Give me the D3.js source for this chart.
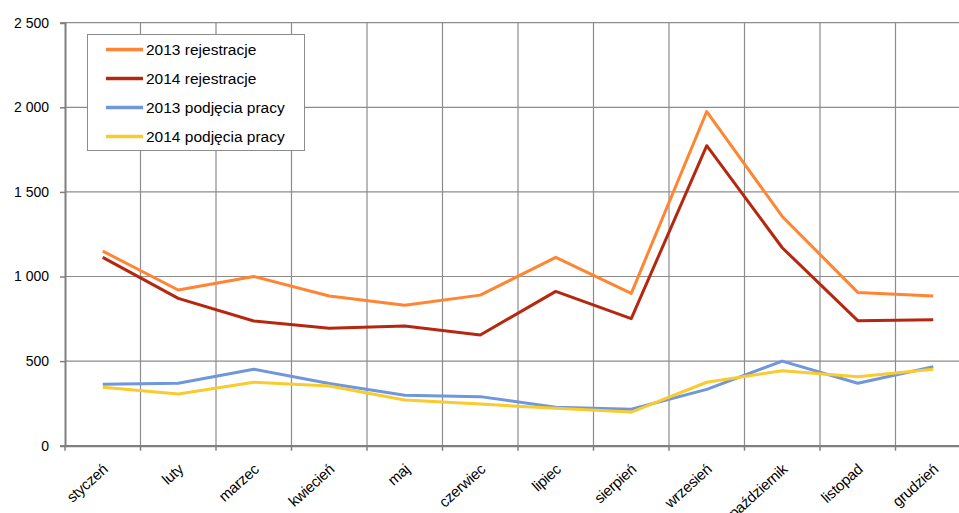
<!DOCTYPE html>
<html><head><meta charset="utf-8">
<script src="https://cdn.jsdelivr.net/npm/d3@7"></script>
<style>body{margin:0;background:#fff}svg{display:block;font-family:"Liberation Sans",Arial,sans-serif}</style>
</head><body><svg id="c" width="959" height="513"></svg>
<script>
const months = ["styczeń","luty","marzec","kwiecień","maj","czerwiec","lipiec","sierpień","wrzesień","październik","listopad","grudzień"];
const rej2013 = [1150, 920, 1000, 885, 830, 890, 1113, 900, 1975, 1355, 906, 885];
const rej2014 = [1113, 871, 737, 694, 708, 654, 912, 751, 1773, 1170, 739, 745];
const podj2013 = [363, 369, 452, 368, 298, 290, 227, 215, 333, 500, 369, 467];
const podj2014 = [345, 305, 375, 353, 270, 246, 221, 199, 375, 443, 408, 452];
const yTicks = [0, 500, 1000, 1500, 2000, 2500];
const seriesNames = ["2013 rejestracje","2014 rejestracje","2013 podjęcia pracy","2014 podjęcia pracy"];
const seriesColors = ["#FF8533","#B5280F","#7096DC","#F8CB2E"];
const seriesData = [rej2013, rej2014, podj2013, podj2014];

const svg = d3.select("#c");
const pLeft = 65, pRight = 971, pTop = 22.7, pBottom = 445.7;
const x = d3.scaleBand().domain(months).range([pLeft, pRight]).padding(0);
const y = d3.scaleLinear().domain([0, 2500]).range([pBottom, pTop]);
const cx = m => x(m) + x.bandwidth()/2;
const fmt = v => d3.format(",")(v).replace(/,/g, " ");

// horizontal grid
svg.append("g").selectAll("line").data(yTicks.slice(1)).join("line")
  .attr("x1", pLeft).attr("x2", pRight).attr("y1", d=>y(d)).attr("y2", d=>y(d))
  .attr("stroke", "#8c8c8c").attr("stroke-width", 1.2);
// vertical grid at band edges
svg.append("g").selectAll("line").data(months.slice(1)).join("line")
  .attr("x1", d=>x(d)).attr("x2", d=>x(d)).attr("y1", pTop).attr("y2", pBottom)
  .attr("stroke", "#8c8c8c").attr("stroke-width", 1.2);

// y axis
const yAxis = svg.append("g").attr("transform", `translate(${pLeft},0)`)
  .call(d3.axisLeft(y).tickValues(yTicks).tickFormat(fmt).tickSize(5).tickPadding(11));
yAxis.select(".domain").attr("stroke", "#7f7f7f").attr("stroke-width", 2);
yAxis.selectAll(".tick line").attr("stroke", "#7f7f7f").attr("stroke-width", 1.5);
yAxis.selectAll("text").attr("font-size", 14).attr("fill", "#000").attr("font-family", "Liberation Sans, Arial, sans-serif");

// x axis
const xAxis = svg.append("g").attr("transform", `translate(0,${pBottom})`)
  .call(d3.axisBottom(x).tickSize(0).tickFormat(""));
xAxis.select(".domain").attr("stroke", "#7f7f7f").attr("stroke-width", 2.2);
svg.append("g").selectAll("line").data(months.concat(["_end"])).join("line")
  .attr("x1", (d,i)=>pLeft + i*x.bandwidth()).attr("x2", (d,i)=>pLeft + i*x.bandwidth())
  .attr("y1", pBottom).attr("y2", pBottom+5).attr("stroke", "#7f7f7f").attr("stroke-width", 1.5);
svg.append("g").selectAll("text").data(months).join("text")
  .attr("transform", d=>`translate(${cx(d)+6},${pBottom+25}) rotate(-42)`)
  .attr("text-anchor", "end").attr("font-size", 15).attr("letter-spacing", -0.3).attr("fill", "#000")
  .text(d=>d);

// lines
const line = d3.line().x((d,i)=>cx(months[i])).y(d=>y(d));
seriesData.forEach((s, k) => {
  svg.append("path").datum(s).attr("d", line).attr("fill", "none")
    .attr("stroke", seriesColors[k]).attr("stroke-width", 3).attr("stroke-linejoin", "round");
});

// legend
const lg = svg.append("g");
lg.append("rect").attr("x", 87.5).attr("y", 34.5).attr("width", 217).attr("height", 116)
  .attr("fill", "#fff").attr("stroke", "#8c8c8c").attr("stroke-width", 1);
seriesNames.forEach((n, k) => {
  const yy = 49.5 + k*29;
  lg.append("line").attr("x1", 106).attr("x2", 143).attr("y1", yy).attr("y2", yy)
    .attr("stroke", seriesColors[k]).attr("stroke-width", 3.5);
  lg.append("text").attr("x", 146).attr("y", yy+5.5).attr("font-size", 15.5).attr("fill", "#000").text(n);
});
</script></body></html>
